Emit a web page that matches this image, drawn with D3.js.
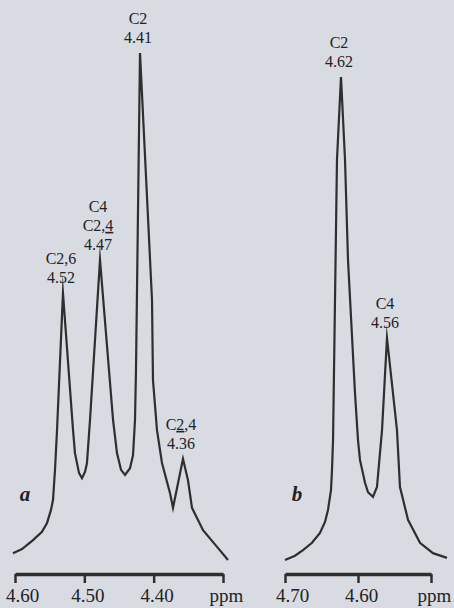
<!DOCTYPE html>
<html>
<head>
<meta charset="utf-8">
<script src="https://cdn.jsdelivr.net/npm/d3@7"></script>
<style>
  html, body { margin: 0; padding: 0; background: #d9dbe2; }
  svg { display: block; }
  text { font-family: "Liberation Serif", "DejaVu Serif", serif; fill: #222; }
</style>
</head>
<body>
<div id="chart"></div>
<script>
// spectre a : [ppm, intensité relative]
const spectrumA = [
  [4.6029, 4.0], [4.5899, 4.8], [4.5740, 6.5], [4.5611, 8.1], [4.5538, 9.8],
  [4.5481, 12.3], [4.5452, 14.2], [4.5423, 20.0], [4.5394, 27.6], [4.5308, 53.9],
  [4.5163, 27.6], [4.5135, 23.2], [4.5077, 19.4], [4.5034, 18.4], [4.4990, 19.6],
  [4.4962, 21.3], [4.4918, 29.6], [4.4774, 60.3], [4.4586, 29.6], [4.4529, 23.2],
  [4.4471, 20.0], [4.4413, 19.0], [4.4341, 20.3], [4.4298, 22.8], [4.4269, 29.6],
  [4.4255, 39.2], [4.4197, 100], [4.4024, 52.6], [4.4010, 37.2], [4.3952, 27.6],
  [4.3880, 21.3], [4.3764, 15.5], [4.3721, 12.7], [4.3577, 22.1], [4.3505, 18.0],
  [4.3447, 12.7], [4.3288, 8.4], [4.3086, 5.2], [4.2928, 2.7]
];

// spectre b
const spectrumB = [
  [4.7000, 2.7], [4.6863, 3.5], [4.6753, 4.6], [4.6630, 6.0], [4.6521, 7.9],
  [4.6452, 10.0], [4.6411, 12.3], [4.6370, 16.1], [4.6356, 20.0], [4.6342, 25.7],
  [4.6288, 79.5], [4.6233, 95.4], [4.6178, 79.5], [4.6137, 60.3], [4.6041, 34.7],
  [4.6000, 25.7], [4.5973, 21.9], [4.5904, 17.5], [4.5863, 15.7], [4.5795, 14.8],
  [4.5740, 16.7], [4.5699, 23.2], [4.5671, 27.6], [4.5603, 45.3],
  [4.5466, 27.6], [4.5425, 16.7], [4.5315, 10.4], [4.5151, 6.0], [4.4973, 4.0],
  [4.4781, 3.1]
];

// étiquettes des pics : [ppm du sommet, intensité, lignes]  ([x] = souligné)
const peaksA = [
  [4.4197, 100, ["C2", "4.41"]],
  [4.4774, 60.3, ["C4", "C2,[4]", "4.47"]],
  [4.5308, 53.9, ["C2,6", "4.52"]],
  [4.3577, 22.1, ["C[2],4", "4.36"]]
];
const peaksB = [
  [4.6233, 95.4, ["C2", "4.62"]],
  [4.5603, 45.3, ["C4", "4.56"]]
];

const ticksA = [4.60, 4.50, 4.40, 4.30];
const tickLabelsA = ["4.60", "4.50", "4.40", "ppm"];
const ticksB = [4.70, 4.60, 4.50];
const tickLabelsB = ["4.70", "4.60", "ppm"];

const width = 454, height = 608;

const svg = d3.select("#chart")
    .append("svg")
    .attr("width", width)
    .attr("height", height);

const y = d3.scaleLinear().domain([0, 100]).range([574, 53]);
const xA = d3.scaleLinear().domain([4.60, 4.30]).range([15, 223]);
const xB = d3.scaleLinear().domain([4.70, 4.50]).range([285, 431]);

function drawPanel(x, spectrum, peaks, ticks, tickLabels, letter, letterX) {
    const line = d3.line()
        .x(d => x(d[0]))
        .y(d => y(d[1]));

    svg.append("path")
        .datum(spectrum)
        .attr("d", line)
        .attr("fill", "none")
        .attr("stroke", "#2e2e2e")
        .attr("stroke-width", 2.2)
        .attr("stroke-linejoin", "miter")
        .attr("stroke-miterlimit", 20);

    // axe
    const axis = svg.append("g")
        .attr("transform", `translate(0, ${y(0)})`)
        .call(d3.axisBottom(x)
            .tickValues(ticks)
            .tickFormat((d, i) => tickLabels[i])
            .tickSize(9)
            .tickSizeOuter(0)
            .tickPadding(6));
    axis.select(".domain").attr("stroke", "#2e2e2e").attr("stroke-width", 3.5);
    axis.selectAll(".tick line").attr("stroke", "#2e2e2e").attr("stroke-width", 2.5);
    axis.selectAll(".tick text")
        .attr("dx", (d, i) => i === 0 ? 7 : 3)
        .style("font-family", '"Liberation Serif", serif')
        .style("font-size", "19px")
        .attr("fill", "#222");

    // étiquettes
    peaks.forEach(p => {
        const px = x(p[0]) - 2;
        const lines = p[2];
        const bottom = y(p[1]) - 10;
        lines.forEach((txt, i) => {
            const t = svg.append("text")
                .attr("x", px)
                .attr("y", bottom - (lines.length - 1 - i) * 19)
                .attr("text-anchor", "middle")
                .style("font-size", "16px");
            txt.split(/(\[[^\]]*\])/).filter(s => s.length).forEach(s => {
                const u = s.startsWith("[");
                t.append("tspan")
                    .text(u ? s.slice(1, -1) : s)
                    .style("text-decoration", u ? "underline" : null);
            });
        });
    });

    svg.append("text")
        .attr("x", letterX)
        .attr("y", 501)
        .attr("text-anchor", "middle")
        .style("font-size", "21px")
        .style("font-style", "italic")
        .style("font-weight", "bold")
        .text(letter);
}

drawPanel(xA, spectrumA, peaksA, ticksA, tickLabelsA, "a", 25);
drawPanel(xB, spectrumB, peaksB, ticksB, tickLabelsB, "b", 297);
</script>
</body>
</html>
